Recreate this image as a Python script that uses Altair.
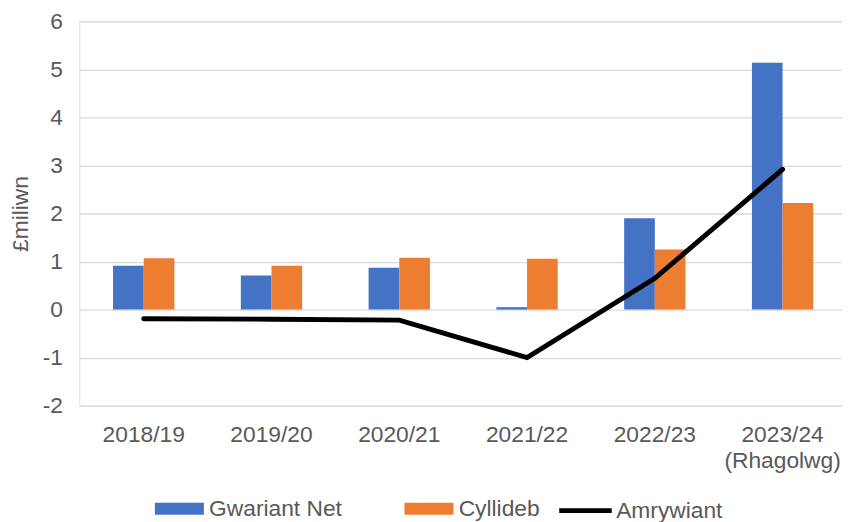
import altair as alt
import pandas as pd

categories = ["2018/19", "2019/20", "2020/21", "2021/22", "2022/23", "2023/24 (Rhagolwg)"]
gwariant_net = [0.91, 0.71, 0.87, 0.05, 1.90, 5.14]
cyllideb = [1.07, 0.91, 1.08, 1.06, 1.25, 2.22]
amrywiant = [-0.19, -0.20, -0.22, -1.00, 0.65, 2.92]
bar_series = ["Gwariant Net", "Cyllideb"]
line_series = ["Amrywiant"]
bar_colors = ["#4472C4", "#ED7D31"]
line_colors = ["#000000"]
y_ticks = [-2, -1, 0, 1, 2, 3, 4, 5, 6]

bars_df = pd.DataFrame(
    [{"category": c, "series": bar_series[0], "value": v} for c, v in zip(categories, gwariant_net)]
    + [{"category": c, "series": bar_series[1], "value": v} for c, v in zip(categories, cyllideb)]
)
line_df = pd.DataFrame(
    [{"category": c, "series": line_series[0], "value": v} for c, v in zip(categories, amrywiant)]
)

FONT = "Liberation Sans"
GREY = "#595959"
FS = 23

x_axis = alt.Axis(
    title=None,
    labelAngle=0,
    domain=False,
    domainOpacity=0,
    domainWidth=0,
    ticks=False,
    tickOpacity=0,
    tickWidth=0,
    grid=False,
    gridOpacity=0,
    gridWidth=0,
    labelFontSize=FS,
    labelColor=GREY,
    labelFont=FONT,
    labelPadding=18,
    labelLineHeight=26,
    labelExpr="split(datum.label, ' ')",
)
y_axis = alt.Axis(
    values=y_ticks,
    title="£miliwn",
    titleFontSize=FS,
    titleFont=FONT,
    titleColor=GREY,
    titleFontWeight="normal",
    titleAngle=270,
    titleX=-52,
    titleY=194,
    titleAlign="center",
    titleBaseline="alphabetic",
    labelFontSize=FS,
    labelColor=GREY,
    labelFont=FONT,
    labelPadding=17,
    labelExpr="'' + datum.value",
    domain=False,
    domainOpacity=0,
    domainWidth=0,
    domainColor="transparent",
    ticks=False,
    tickOpacity=0,
    tickWidth=0,
    grid=True,
    gridColor="#D9D9D9",
    gridWidth=1.3,
)
x_scale = alt.Scale(paddingInner=0.52, paddingOuter=0.2445, align=0.54)
y_scale = alt.Scale(domain=[-2, 6], nice=False, zero=False)

bars = alt.Chart(bars_df).mark_bar().encode(
    x=alt.X("category:N", sort=categories, scale=x_scale, axis=x_axis),
    y=alt.Y("value:Q", scale=y_scale, axis=y_axis),
    xOffset=alt.XOffset("series:N", sort=bar_series,
                        scale=alt.Scale(domain=bar_series, paddingInner=0, paddingOuter=0)),
    color=alt.Color(
        "series:N",
        scale=alt.Scale(domain=bar_series, range=bar_colors),
        legend=alt.Legend(
            title=None,
            orient="none",
            direction="horizontal",
            legendX=76,
            legendY=467,
            symbolType="M-1,-0.245H1V0.245H-1Z",
            symbolSize=2450,
            symbolStrokeWidth=0,
            symbolOpacity=1,
            labelFontSize=FS,
            labelFont=FONT,
            labelColor=GREY,
            labelOffset=5,
            columnPadding=62,
            padding=0,
        ),
    ),
)

line = alt.Chart(line_df).mark_line(strokeWidth=5, strokeCap="round").encode(
    x=alt.X("category:N", sort=categories, scale=x_scale, axis=x_axis),
    y=alt.Y("value:Q", scale=y_scale, axis=y_axis),
    stroke=alt.Stroke(
        "series:N",
        scale=alt.Scale(domain=line_series, range=line_colors),
        legend=alt.Legend(
            title=None,
            orient="none",
            legendX=482,
            legendY=465,
            symbolType="stroke",
            symbolSize=2809,
            symbolStrokeWidth=5,
            labelFontSize=FS,
            labelFont=FONT,
            labelColor=GREY,
            labelOffset=2,
            padding=0,
        ),
    ),
)

chart = (
    alt.layer(bars, line)
    .properties(
        width=770,
        height=388,
        autosize=alt.AutoSizeParams(type="none"),
        padding={"left": 72, "top": 11, "right": 0, "bottom": 115},
    )
    .configure_view(stroke="transparent", strokeWidth=0, strokeOpacity=0)
    .configure_axis(domain=False, ticks=False, domainOpacity=0, domainWidth=0, tickWidth=0)
    .configure_axisX(grid=False, gridWidth=0)
    .configure(font=FONT)
)

chart.save("out.html", embed_options={"renderer": "svg", "actions": False})
